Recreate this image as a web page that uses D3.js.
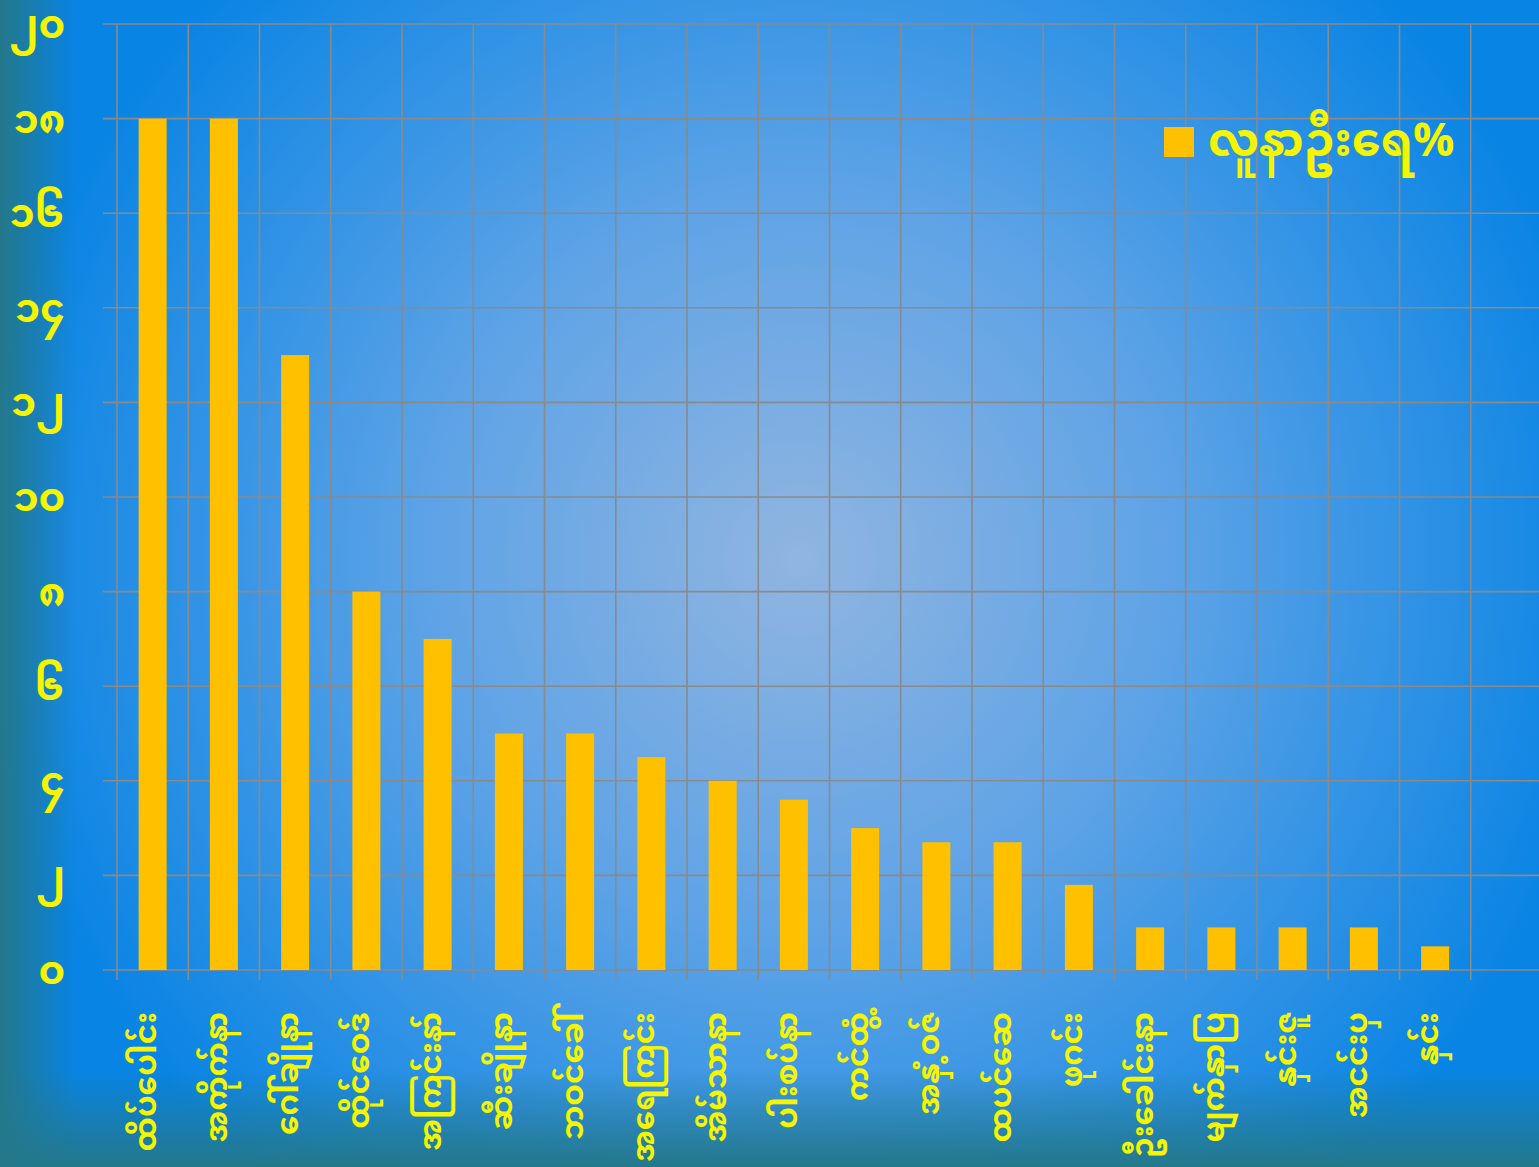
<!DOCTYPE html>
<html><head><meta charset="utf-8">
<script src="https://cdn.jsdelivr.net/npm/d3@7"></script>
<style>
html,body{margin:0;padding:0;overflow:hidden;}
svg{display:block;}
</style></head>
<body>
<script>
const categories = ["ထိပ်ပေါင်း","အကိုက်နာ","ဂေါ်ချိုနာ","ထိုင်ဝေဒ်","အကြင်းနာ်","ဆီးချိုနာ","ဘဝင်ခေါ်","အရေကြင်း","အိမ်သာနာ","ပါးစပ်နာ","ကင်ထွံ့","အနှံ့ဝဇ်","ထပင်ဆေ","ဖုဂင်း","ဦးခေါင်းနာ","မျက်နှာပြ","နှင်းဇူ","အငင်းပှ","နှင်း",""];
const values = [18,18,13,8,7,5,5,4.5,4,3.6,3,2.7,2.7,1.8,0.9,0.9,0.9,0.9,0.5,null];
const yTicks = [0,2,4,6,8,10,12,14,16,18,20];
const yTickLabels = ["၀","၂","၄","၆","၈","၁၀","၁၂","၁၄","၁၆","၁၈","၂၀"];
const legendLabel = "လူနာဦးရေ%";

const W = 1539, H = 1167;
const FONT = "'Noto Sans Myanmar','Padauk','Myanmar Text','Noto Sans',sans-serif";
const svg = d3.select("body").append("svg").attr("width", W).attr("height", H);
const defs = svg.append("defs");
const rg = defs.append("radialGradient").attr("id","bg").attr("gradientUnits","userSpaceOnUse")
  .attr("cx",800).attr("cy",560).attr("r",820);
rg.append("stop").attr("offset","0%").attr("stop-color","#90b5e0");
rg.append("stop").attr("offset","45%").attr("stop-color","#5ea3e6");
rg.append("stop").attr("offset","100%").attr("stop-color","#0884e4");
const lg = defs.append("linearGradient").attr("id","leftEdge").attr("x1",0).attr("x2",1).attr("y1",0).attr("y2",0);
lg.append("stop").attr("offset","0%").attr("stop-color","#24788a").attr("stop-opacity",1);
lg.append("stop").attr("offset","100%").attr("stop-color","#24788a").attr("stop-opacity",0);
const bg2 = defs.append("linearGradient").attr("id","botEdge").attr("x1",0).attr("x2",0).attr("y1",0).attr("y2",1);
bg2.append("stop").attr("offset","0%").attr("stop-color","#24788a").attr("stop-opacity",0);
bg2.append("stop").attr("offset","100%").attr("stop-color","#24788a").attr("stop-opacity",1);

svg.append("rect").attr("width",W).attr("height",H).attr("fill","url(#bg)");
svg.append("rect").attr("x",0).attr("y",0).attr("width",75).attr("height",H).attr("fill","url(#leftEdge)");
svg.append("rect").attr("x",0).attr("y",1070).attr("width",W).attr("height",97).attr("fill","url(#botEdge)");

const x0 = 117, bandW = 71.25;
const x = d3.scaleBand().domain(d3.range(categories.length)).range([x0, x0 + bandW*categories.length]).paddingInner(0).paddingOuter(0);
const y = d3.scaleLinear().domain([0,20]).range([970,24]);

const grid = "#8a8a8a";
svg.append("g").selectAll("line").data(yTicks).join("line")
  .attr("x1",103).attr("x2",W).attr("y1",d=>y(d)).attr("y2",d=>y(d))
  .attr("stroke",grid).attr("stroke-width",1.6);
const bounds = d3.range(categories.length).map(i=>x(i));
svg.append("g").selectAll("line").data(bounds).join("line")
  .attr("x1",d=>d).attr("x2",d=>d).attr("y1",y(20)).attr("y2",980)
  .attr("stroke",grid).attr("stroke-width",1.6);

const bw = 28;
svg.append("g").selectAll("rect").data(values.map((v,i)=>({v,i})).filter(d=>d.v!=null)).join("rect")
  .attr("x",d=>x(d.i)+x.bandwidth()/2-bw/2).attr("width",bw)
  .attr("y",d=>y(d.v)).attr("height",d=>y(0)-y(d.v))
  .attr("fill","#ffc000");

svg.append("g").selectAll("text").data(yTicks).join("text")
  .attr("x",65).attr("y",d=>y(d)).attr("dy","0.35em")
  .attr("text-anchor","end").attr("fill","#f5f500")
  .attr("font-family",FONT).attr("font-size",40).attr("font-weight","bold")
  .text((d,i)=>yTickLabels[i]);

svg.append("g").selectAll("text").data(categories).join("text")
  .attr("transform",(d,i)=>`translate(${x(i)+x.bandwidth()/2+3},1012) rotate(-90)`)
  .attr("text-anchor","end").attr("fill","#f5f500")
  .attr("font-family",FONT).attr("font-size",31).attr("font-weight","bold")
  .text(d=>d);

svg.append("rect").attr("x",1164).attr("y",127).attr("width",30).attr("height",30).attr("fill","#ffc000");
svg.append("text").attr("x",1208).attr("y",142).attr("dy","0.3em").attr("fill","#f5f500")
  .attr("font-family",FONT).attr("font-size",46).attr("font-weight","bold").text(legendLabel);
</script>
</body></html>
